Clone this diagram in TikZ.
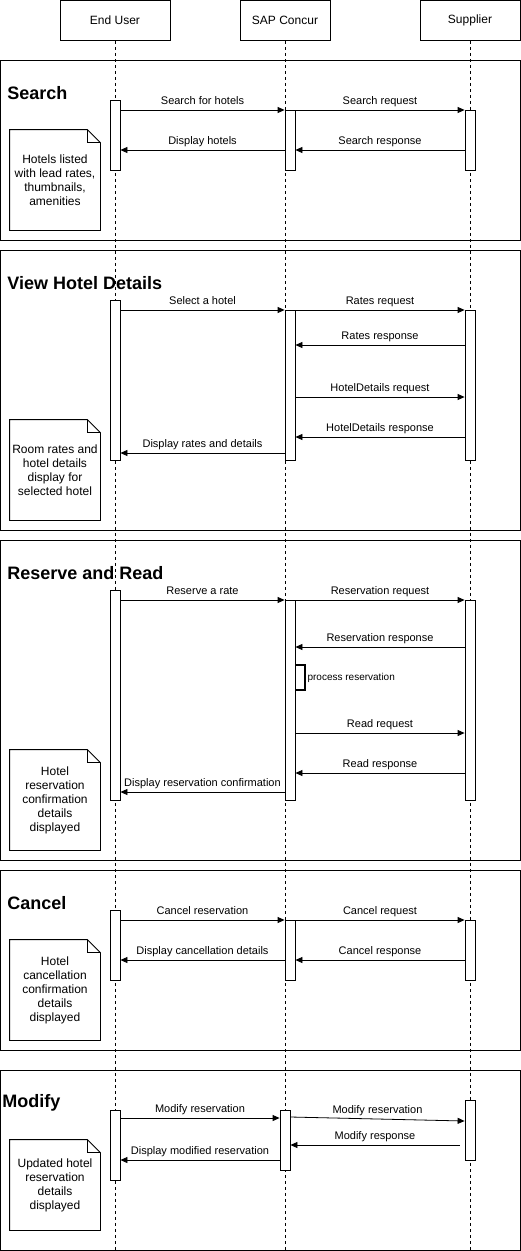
\documentclass[tikz,border=0pt]{standalone}
\usepackage{fontspec}
\setmainfont{Liberation Sans}
\usetikzlibrary{arrows.meta}
\tikzset{
  actor/.style={draw,minimum height=40pt,font=\fontsize{12}{14}\selectfont},
  act/.style={draw,fill=white,minimum width=10pt,inner sep=0pt},
  msg/.style={-{Triangle[length=7pt,width=6pt]}},
  lbl/.style={midway,above,inner sep=2pt,text depth=3pt,font=\fontsize{11}{13}\selectfont},
  notebox/.style={align=center,minimum width=90pt,inner sep=0pt,font=\fontsize{12}{14}\selectfont},
  frametitle/.style={anchor=west,inner sep=0pt,font=\fontsize{18}{20}\bfseries\selectfont}
}
\begin{document}
\begin{tikzpicture}[x=1pt,y=-1pt,line width=0.8pt]
\useasboundingbox (0,0) rectangle (521,1251);
% frames
\foreach \ya/\yb/\tx/\t [count=\i] in {60/240/7/Search,250/530/7/View Hotel Details,540/860/7/Reserve and Read,870/1050/7/Cancel,1070/1250/2/Modify}{
\draw (0.5,\ya) rectangle (520,\yb);
\node[frametitle] (t\i) at (\tx,\ya+33) {\t};
}
% lifelines
\node[actor,minimum width=110pt] (eu) at (115,20.5) {End User};
\node[actor,minimum width=90pt] (sc) at (285,20.5) {SAP Concur};
\node[actor,minimum width=100pt] (sp) at (470,20.5) {Supplier};
\foreach \p in {eu,sc,sp}
\draw[dash pattern=on 3pt off 3pt] (\p.south) -- (\p.south |- 0,1251);
% activations
\foreach \n/\x/\ya/\yb in {eua/115/100/170,sca/290/110/170,spa/470/110/170,
  eub/115/300/460,scb/290/310/460,spb/470/310/460,
  euc/115/590/800,scc/290/600/800,spc/470/600/800,
  eud/115/910/980,scd/290/920/980,spd/470/920/980,
  eue/115/1110/1180,sce/285/1110/1170,spe/470/1100/1160}
\node[act,minimum height={(\yb-\ya)*1pt}] (\n) at (\x,{(\ya+\yb)/2}) {};
% calls
\foreach \a/\b/\y/\t in {eua/sca/110/Search for hotels,sca/spa/110/Search request,
  eub/scb/310/Select a hotel,scb/spb/310/Rates request,scb/spb/397/HotelDetails request,
  euc/scc/600/Reserve a rate,scc/spc/600/Reservation request,scc/spc/733/Read request,
  eud/scd/920/Cancel reservation,scd/spd/920/Cancel request,
  eue/sce/1118/Modify reservation}
\draw[msg] (\a.east |- 0,\y) -- node[lbl]{\t} (\b.west |- 0,\y);
% replies
\foreach \a/\b/\y/\t in {sca/eua/150/Display hotels,spa/sca/150/Search response,
  spb/scb/345/Rates response,spb/scb/437/HotelDetails response,scb/eub/453/Display rates and details,
  spc/scc/647/Reservation response,spc/scc/773/Read response,scc/euc/792/Display reservation confirmation,
  scd/eud/960/Display cancellation details,spd/scd/960/Cancel response,
  sce/eue/1160/Display modified reservation}
\draw[msg] (\a.west |- 0,\y) -- node[lbl]{\t} (\b.east |- 0,\y);
\draw[msg] (sce.east |- 0,1117) -- node[lbl]{Modify reservation} (spe.west |- 0,1121);
\draw[msg] ([xshift=-5pt]spe.west |- 0,1145) -- node[lbl]{Modify response} (sce.east |- 0,1145);
% self call
\coordinate (pr) at (305,665);
\draw[line width=1.2pt] (scc.east |- pr) -- (pr) -- node[right,inner sep=2pt,font=\fontsize{10}{12}\selectfont]{process reservation} (pr |- 0,690) -- (scc.east |- 0,690);
% notes
\foreach \n/\y/\h/\t in {na/180/100/{Hotels listed\\with lead rates,\\thumbnails,\\amenities},
  nb/470/100/{Room rates and\\hotel details\\display for\\selected hotel},
  nc/800/100/{Hotel\\reservation\\confirmation\\details\\displayed},
  nd/990/100/{Hotel\\cancellation\\confirmation\\details\\displayed},
  ne/1185/90/{Updated hotel\\reservation\\details\\displayed}}{
\node[notebox,minimum height=\h pt] (\n) at (55,\y) {\t};
\draw (\n.south west) -- (\n.north west) -- ([xshift=-13pt]\n.north east) -- ([yshift=-13pt]\n.north east) -- (\n.south east) -- cycle;
\draw ([xshift=-13pt]\n.north east) |- ([yshift=-13pt]\n.north east);
}
\end{tikzpicture}
\end{document}
